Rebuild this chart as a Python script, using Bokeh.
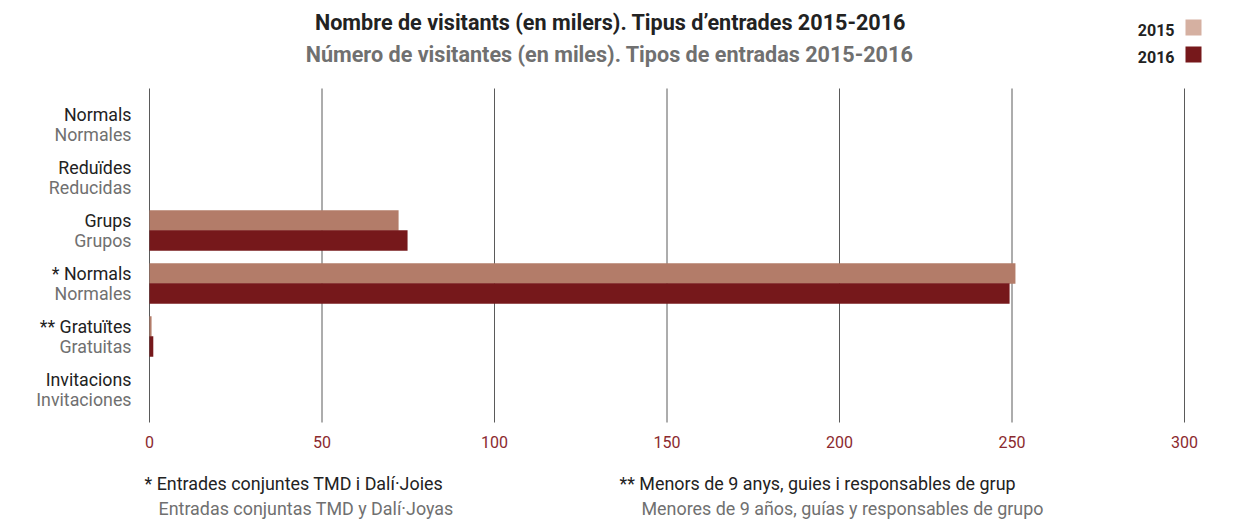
import numpy as np
from bokeh.plotting import figure
from bokeh.models import Range1d, ColumnDataSource
from bokeh.core.properties import value
from bokeh.embed import file_html
from bokeh.resources import INLINE

# ---------------- data ----------------
categories_ca = ["Normals", "Reduïdes", "Grups", "* Normals", "** Gratuïtes", "Invitacions"]
categories_es = ["Normales", "Reducidas", "Grupos", "Normales", "Gratuitas", "Invitaciones"]
visitors_2015 = [0, 0, 72.2, 251.0, 0.6, 0]
visitors_2016 = [0, 0, 74.8, 249.3, 1.1, 0]
x_ticks = [0, 50, 100, 150, 200, 250, 300]
years = ["2015", "2016"]
title_ca = "Nombre de visitants (en milers). Tipus d\u2019entrades 2015-2016"
title_es = "Número de visitantes (en miles). Tipos de entradas 2015-2016"
note1_ca = "* Entrades conjuntes TMD i Dalí·Joies"
note1_es = "Entradas conjuntas TMD y Dalí·Joyas"
note2_ca = "** Menors de 9 anys, guies i responsables de grup"
note2_es = "Menores de 9 años, guías y responsables de grupo"

# ---------------- style ----------------
C2015 = "#b37c69"
C2015_LEG = "#d5b0a1"
C2016 = "#76181b"
DARK = "#222222"
GREY = "#707070"
TICK = "#8b2a2e"
GRID = "#5a5a5a"
FONT = "Roboto"

W, H = 1237, 520
X0_PX, PX_PER = 149.0, 3.45       # pixel of value 0, pixels per unit
Y0_PX, ROW_PX = 124.0, 53.0       # pixel of first row centre, row step
GRID_TOP_PX, GRID_BOT_PX = 88, 422

def dx(px):
    return (px - X0_PX) / PX_PER

def dy(px):
    return (px - Y0_PX) / ROW_PX

p = figure(width=W, height=H, output_backend="svg", toolbar_location=None,
           x_range=Range1d(dx(0), dx(W)), y_range=Range1d(dy(H), dy(0)),
           x_axis_location=None, y_axis_location=None,
           min_border=0, min_border_left=0, min_border_right=0,
           min_border_top=0, min_border_bottom=0)
p.outline_line_color = None
p.grid.visible = False
p.background_fill_color = "white"
p.border_fill_color = "white"

# vertical grid lines and tick labels from the tick list
tick_src = ColumnDataSource(dict(x=x_ticks, lab=[str(t) for t in x_ticks]))
p.segment(x0="x", x1="x", y0=dy(GRID_TOP_PX), y1=dy(GRID_BOT_PX), source=tick_src,
          line_color=GRID, line_width=1)
p.text(x="x", y=dy(441), text="lab", source=tick_src, text_align="center",
       text_baseline="middle", text_color=TICK, text_font=value(FONT),
       text_font_size="16px")

idx = np.arange(len(categories_ca))
src = ColumnDataSource(dict(idx=idx, ca=categories_ca, es=categories_es,
                            v15=visitors_2015, v16=visitors_2016,
                            y15=idx - 0.19, y16=idx + 0.19))

bar_h = 20.5 / ROW_PX
p.hbar(y="y15", left=0, right="v15", height=bar_h, source=src,
       fill_color=C2015, line_color=None)
p.hbar(y="y16", left=0, right="v16", height=bar_h, source=src,
       fill_color=C2016, line_color=None)

# category labels (two languages)
p.text(x=0, y="idx", text="ca", source=src, x_offset=-18, y_offset=-10,
       text_align="right", text_baseline="middle", text_color=DARK,
       text_font=value(FONT), text_font_size="17.8px")
p.text(x=0, y="idx", text="es", source=src, x_offset=-18, y_offset=10,
       text_align="right", text_baseline="middle", text_color=GREY,
       text_font=value(FONT), text_font_size="17.8px")

def lab(text, xpx, ypx, color, size, bold=False, align="left"):
    p.text(x=[dx(xpx)], y=[dy(ypx)], text=[text], text_color=color,
           text_font=value(FONT), text_font_size=size,
           text_font_style="bold" if bold else "normal",
           text_align=align, text_baseline="middle")

# titles
lab(title_ca, 610, 22, DARK, "21.6px", bold=True, align="center")
lab(title_es, 609, 54, GREY, "21.6px", bold=True, align="center")

# legend
lab(years[0], 1174, 29, DARK, "16px", bold=True, align="right")
lab(years[1], 1174, 56, DARK, "16px", bold=True, align="right")
p.rect(x=[dx(1193), dx(1193)], y=[dy(27), dy(54)], width=16, height=16,
       width_units="screen", height_units="screen",
       fill_color=[C2015_LEG, C2016], line_color=None)

# footnotes
lab(note1_ca, 144, 483, DARK, "17.9px")
lab(note1_es, 158, 508, GREY, "17.9px")
lab(note2_ca, 619, 483, DARK, "17.9px")
lab(note2_es, 641, 508, GREY, "17.9px")

open("out.html", "w").write(file_html(p, INLINE))
